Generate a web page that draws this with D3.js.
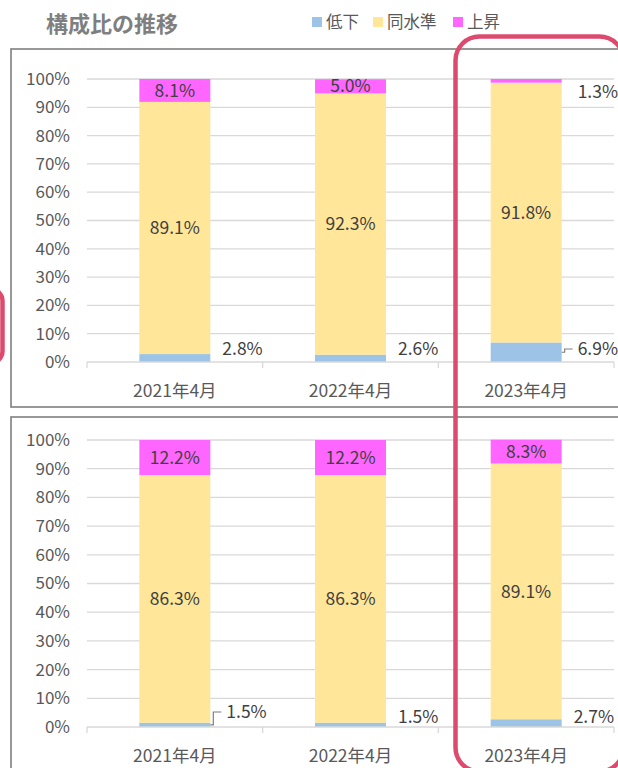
<!DOCTYPE html>
<html>
<head>
<meta charset="utf-8">
<script src="https://cdn.jsdelivr.net/npm/d3@7"></script>
<style>
  body { margin: 0; background: #fff; }
  svg text { font-family: "Noto Sans CJK JP", "Noto Sans", sans-serif; }
</style>
</head>
<body>
<svg id="chart" width="618" height="768"></svg>
<script>
// data
const categories = ["2021年4月", "2022年4月", "2023年4月"];
const seriesNames = ["低下", "同水準", "上昇"];
const seriesColors = ["#9dc3e6", "#ffe699", "#ff66ff"];
const yTicks = [0, 10, 20, 30, 40, 50, 60, 70, 80, 90, 100];

const topDown = [2.8, 2.6, 6.9];
const topSame = [89.1, 92.3, 91.8];
const topUp = [8.1, 5.0, 1.3];

const bottomDown = [1.5, 1.5, 2.7];
const bottomSame = [86.3, 86.3, 89.1];
const bottomUp = [12.2, 12.2, 8.3];

const svg = d3.select("#chart");

// title + legend
svg.append("text")
  .attr("x", 46).attr("y", 32)
  .attr("fill", "#7f7f7f")
  .attr("font-size", 22).attr("font-weight", "bold")
  .text("構成比の推移");

const legendX = [312, 373, 453];
seriesNames.forEach((name, i) => {
  svg.append("rect")
    .attr("x", legendX[i]).attr("y", 17)
    .attr("width", 10).attr("height", 10)
    .attr("fill", seriesColors[i]);
  svg.append("text")
    .attr("x", legendX[i] + 14).attr("y", 28)
    .attr("fill", "#595959").attr("font-size", 16.5)
    .text(name);
});

function drawPanel(frameTop, frameBottom, y0, y100, down, same, up, lowLabel) {
  let g = svg.append("g");

  g.append("rect")
    .attr("x", 11).attr("y", frameTop)
    .attr("width", 640).attr("height", frameBottom - frameTop)
    .attr("fill", "none")
    .attr("stroke", "#7f7f7f").attr("stroke-width", 1.6);

  const x = d3.scaleBand()
    .domain(categories)
    .range([87, 614])
    .paddingInner(0.596)
    .paddingOuter(0.298);
  const y = d3.scaleLinear().domain([0, 100]).range([y0, y100]);
  const step = x.step();

  // gridlines
  g.selectAll(".grid").data(yTicks.slice(1)).join("line")
    .attr("x1", 87).attr("x2", 614)
    .attr("y1", d => y(d)).attr("y2", d => y(d))
    .attr("stroke", "#d9d9d9").attr("stroke-width", 1.3);

  // y tick labels
  g.selectAll(".ylab").data(yTicks).join("text")
    .attr("x", 70).attr("y", d => y(d))
    .attr("dy", "0.35em")
    .attr("text-anchor", "end")
    .attr("fill", "#595959").attr("font-size", 17)
    .text(d => d + "%");

  // stacked bars
  const rows = categories.map((c, i) => ({cat: c, "低下": down[i], "同水準": same[i], "上昇": up[i]}));
  const stacked = d3.stack().keys(seriesNames)(rows);

  stacked.forEach((layer, k) => {
    g.selectAll(null).data(layer).join("rect")
      .attr("x", d => x(d.data.cat))
      .attr("width", x.bandwidth())
      .attr("y", d => y(d[1]))
      .attr("height", d => y(d[0]) - y(d[1]))
      .attr("fill", seriesColors[k]);
  });

  // baseline with ticks
  g.append("line")
    .attr("x1", 87).attr("x2", 614)
    .attr("y1", y(0)).attr("y2", y(0))
    .attr("stroke", "#d9d9d9").attr("stroke-width", 1.3);
  const bounds = categories.map(c => x(c) - step * x.paddingInner() / 2);
  bounds.push(614);
  g.selectAll(".tick").data(bounds).join("line")
    .attr("x1", d => d).attr("x2", d => d)
    .attr("y1", y(0)).attr("y2", y(0) + 6)
    .attr("stroke", "#d9d9d9").attr("stroke-width", 1.3);

  // category labels
  g.selectAll(".xlab").data(categories).join("text")
    .attr("x", d => x(d) + x.bandwidth() / 2)
    .attr("y", y(0) + 29)
    .attr("dy", "0.35em")
    .attr("text-anchor", "middle")
    .attr("fill", "#595959").attr("font-size", 17.5)
    .text(d => d);

  const fmt = v => v.toFixed(1) + "%";

  // labels inside segments (同水準, 上昇)
  [1, 2].forEach(k => {
    stacked[k].forEach((d, i) => {
      let v = d[1] - d[0];
      let cx = x(d.data.cat) + x.bandwidth() / 2;
      let ty = (y(d[0]) + y(d[1])) / 2;
      let anchor = "middle";
      if (v < 3) {
        // too thin, put outside to the right
        cx = x(d.data.cat) + x.bandwidth() + 16;
        ty = y(d[1]) + 13;
        anchor = "start";
      }
      g.append("text")
        .attr("x", cx).attr("y", ty)
        .attr("dy", "0.35em")
        .attr("text-anchor", anchor)
        .attr("fill", "#404040").attr("font-size", 17.5)
        .text(fmt(v));
    });
  });

  // 低下 labels, outside right of the bar
  stacked[0].forEach((d, i) => {
    let right = x(d.data.cat) + x.bandwidth();
    let mid = (y(d[0]) + y(d[1])) / 2;
    let ly = y(0) + lowLabel.dy[i];
    if (lowLabel.leader[i]) {
      g.append("path")
        .attr("d", `M${right},${mid}H${right + 3}V${ly}H${right + 11}`)
        .attr("fill", "none")
        .attr("stroke", "#7f7f7f").attr("stroke-width", 1.2);
    }
    g.append("text")
      .attr("x", right + (lowLabel.leader[i] ? 16 : 12)).attr("y", ly)
      .attr("dy", "0.35em")
      .attr("fill", "#404040").attr("font-size", 17.5)
      .text(fmt(d[1] - d[0]));
  });
}

drawPanel(49, 407, 362, 79, topDown, topSame, topUp,
  {dy: [-13, -13, -13], leader: [false, false, true]});
drawPanel(417, 800, 727, 440, bottomDown, bottomSame, bottomUp,
  {dy: [-15, -10, -10], leader: [true, false, false]});

// red highlight frames
svg.append("rect")
  .attr("x", 455.5).attr("y", 36.5)
  .attr("width", 168).attr("height", 735)
  .attr("rx", 24)
  .attr("fill", "none")
  .attr("stroke", "#dc4b6e").attr("stroke-width", 4.5);

svg.append("rect")
  .attr("x", -300).attr("y", 289)
  .attr("width", 302.5).attr("height", 74)
  .attr("rx", 12)
  .attr("fill", "none")
  .attr("stroke", "#dc4b6e").attr("stroke-width", 4.5);
</script>
</body>
</html>
